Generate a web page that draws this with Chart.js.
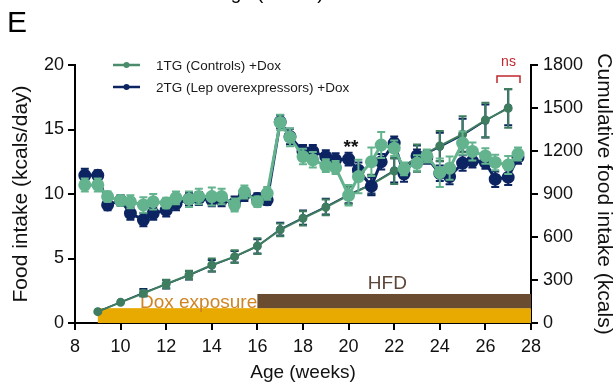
<!DOCTYPE html>
<html>
<head>
<meta charset="utf-8">
<script src="https://cdn.jsdelivr.net/npm/chart.js@4.4.1/dist/chart.umd.min.js"></script>
<style>
  body { margin: 0; background: #fff; }
</style>
</head>
<body>
<canvas id="intake" width="616" height="388"></canvas>
<script>
// daily food intake (kcals/day), two readings a week
var dayWeeks = [8.43, 9, 9.43, 10, 10.43, 11, 11.43, 12, 12.43, 13, 13.43, 14, 14.43, 15, 15.43, 16, 16.43,
  17, 17.43, 18, 18.43, 19, 19.43, 20, 20.43, 21, 21.43, 22, 22.43, 23, 23.43, 24, 24.43, 25, 25.43, 26, 26.43, 27, 27.43];
var ctrlDaily = [10.7, 10.7, 9.8, 9.5, 9.4, 9.15, 9.4, 9.3, 9.7, 9.6, 9.8, 9.8, 9.8, 9.15, 10.15, 9.4, 10.05,
  15.55, 14.4, 12.9, 12.65, 12.2, 12.05, 9.9, 11.35, 12.5, 13.8, 13.55, 11.95, 12.4, 12.95, 11.65, 12.0, 13.95, 13.3, 12.95, 12.45, 12.25, 13.1];
var ctrlDailyErr = [0.5, 0.5, 0.4, 0.4, 0.5, 0.6, 0.6, 0.4, 0.5, 0.6, 0.6, 0.7, 0.6, 0.5, 0.5, 0.4, 0.5,
  0.6, 0.7, 0.6, 0.6, 0.5, 0.5, 0.8, 1.3, 1.1, 1.0, 0.6, 0.5, 0.6, 0.5, 1.1, 0.9, 0.9, 0.7, 0.6, 0.6, 0.7, 0.5];
var lepDaily = [11.45, 11.45, 9.15, 9.5, 8.5, 8.0, 8.5, 8.75, 9.25, 9.6, 9.65, 9.55, 9.55, 9.3, 9.95, 9.65, 9.55,
  15.6, 14.45, 13.3, 13.3, 12.9, 12.65, 12.7, 11.85, 10.6, 12.5, 13.95, 11.55, 12.95, 12.85, 11.6, 11.35, 12.4, 12.55, 12.45, 11.15, 11.3, 12.85];
var lepDailyErr = [0.5, 0.4, 0.4, 0.4, 0.5, 0.5, 0.5, 0.5, 0.5, 0.5, 0.5, 0.5, 0.5, 0.5, 0.5, 0.4, 0.4,
  0.5, 0.6, 0.5, 0.5, 0.5, 0.5, 0.5, 0.6, 0.7, 0.6, 0.5, 0.6, 0.5, 0.5, 0.6, 0.6, 0.6, 0.5, 0.5, 0.6, 0.6, 0.5];

// cumulative intake (kcals), weekly
var cumWeeks = [9, 10, 11, 12, 13, 14, 15, 16, 17, 18, 19, 20, 21, 22, 23, 24, 25, 26, 27];
var ctrlCum = [79, 144, 207, 272, 335, 405, 463, 537, 650, 730, 807, 890, 965, 1060, 1150, 1235, 1317, 1416, 1498];
var ctrlCumErr = [0, 0, 20, 30, 30, 45, 45, 55, 45, 50, 55, 60, 70, 90, 95, 105, 125, 120, 135];
var lepCum = [80, 146, 212, 270, 333, 400, 462, 535, 655, 735, 812, 895, 968, 1065, 1148, 1228, 1310, 1410, 1505];
var lepCumErr = [0, 0, 25, 30, 30, 40, 40, 50, 45, 50, 55, 60, 65, 85, 90, 100, 115, 115, 125];

// treatment periods (weeks)
var doxPeriod = [9, 28];
var hfdPeriod = [16, 28];

var xTicks = [8, 10, 12, 14, 16, 18, 20, 22, 24, 26, 28];
var leftTicks = [0, 5, 10, 15, 20];
var rightTicks = [0, 300, 600, 900, 1200, 1500, 1800];

var GREEN = '#63b38e';
var GREEN_DARK = '#3f7d60';
var NAVY = '#0c2461';
var FONT = '"Liberation Sans", Arial, sans-serif';

function pts(xs, ys) {
  return xs.map(function (x, i) { return { x: x, y: ys[i] }; });
}

function fixedTicks(list) {
  return function (s) { s.ticks = list.map(function (v) { return { value: v }; }); };
}

// bands for dox exposure / HFD along the bottom
var periodBands = {
  id: 'periodBands',
  beforeDatasetsDraw: function (chart) {
    var ctx = chart.ctx, x = chart.scales.x, y = chart.scales.y;
    ctx.save();
    ctx.fillStyle = '#e8a900';
    ctx.fillRect(x.getPixelForValue(doxPeriod[0]), y.getPixelForValue(1.15),
      x.getPixelForValue(doxPeriod[1]) - x.getPixelForValue(doxPeriod[0]), y.getPixelForValue(0) - y.getPixelForValue(1.15));
    ctx.fillStyle = '#6a4c31';
    ctx.fillRect(x.getPixelForValue(hfdPeriod[0]), y.getPixelForValue(2.25),
      x.getPixelForValue(hfdPeriod[1]) - x.getPixelForValue(hfdPeriod[0]), y.getPixelForValue(1.15) - y.getPixelForValue(2.25));
    ctx.font = '19px ' + FONT;
    ctx.textBaseline = 'alphabetic';
    ctx.fillStyle = '#cf8524';
    ctx.textAlign = 'left';
    ctx.fillText('Dox exposure', x.getPixelForValue(10.85), y.getPixelForValue(1.2));
    ctx.fillStyle = '#5b4637';
    ctx.textAlign = 'center';
    ctx.fillText('HFD', x.getPixelForValue(21.7), y.getPixelForValue(2.6));
    ctx.restore();
  }
};

// SEM whiskers, drawn under each dataset
var errorBars = {
  id: 'errorBars',
  beforeDatasetDraw: function (chart, args) {
    var ds = chart.data.datasets[args.index];
    if (!ds.errors) return;
    var ys = chart.scales[ds.yAxisID], ctx = chart.ctx;
    ctx.save();
    ctx.strokeStyle = ds.borderColor;
    ctx.lineWidth = 2;
    args.meta.data.forEach(function (pt, i) {
      var e = ds.errors[i];
      if (!e) return;
      var v = ds.data[i].y;
      var t = ys.getPixelForValue(v + e), b = ys.getPixelForValue(v - e);
      ctx.beginPath();
      ctx.moveTo(pt.x, t); ctx.lineTo(pt.x, b);
      ctx.moveTo(pt.x - 4, t); ctx.lineTo(pt.x + 4, t);
      ctx.moveTo(pt.x - 4, b); ctx.lineTo(pt.x + 4, b);
      ctx.stroke();
    });
    ctx.restore();
  }
};

// legend, significance marks and panel letter
var extras = {
  id: 'extras',
  afterDraw: function (chart) {
    var ctx = chart.ctx, x = chart.scales.x;
    ctx.save();
    var items = [['1TG (Controls) +Dox', '#4a8c6c', 65], ['2TG (Lep overexpressors) +Dox', NAVY, 87]];
    items.forEach(function (it) {
      ctx.strokeStyle = it[1];
      ctx.lineWidth = 2.5;
      ctx.beginPath(); ctx.moveTo(113, it[2]); ctx.lineTo(140, it[2]); ctx.stroke();
      ctx.fillStyle = it[1];
      ctx.beginPath(); ctx.arc(126.5, it[2], 3, 0, Math.PI * 2); ctx.fill();
      ctx.fillStyle = '#1a1a1a';
      ctx.font = '13.5px ' + FONT;
      ctx.textAlign = 'left';
      ctx.textBaseline = 'middle';
      ctx.fillText(it[0], 156, it[2] + 1);
    });

    // ** at week 20
    ctx.fillStyle = '#111';
    ctx.font = 'bold 19px ' + FONT;
    ctx.textAlign = 'center';
    ctx.textBaseline = 'alphabetic';
    ctx.fillText('**', x.getPixelForValue(20.1), 153);

    // ns bracket over the last cumulative point
    ctx.strokeStyle = '#c0272d';
    ctx.lineWidth = 1.5;
    ctx.beginPath();
    ctx.moveTo(497, 83); ctx.lineTo(497, 76); ctx.lineTo(520, 76); ctx.lineTo(520, 83);
    ctx.stroke();
    ctx.fillStyle = '#c0272d';
    ctx.font = '14px ' + FONT;
    ctx.textBaseline = 'middle';
    ctx.fillText('ns', 508.5, 62);

    ctx.fillStyle = '#000';
    ctx.font = '30px ' + FONT;
    ctx.textAlign = 'left';
    ctx.textBaseline = 'alphabetic';
    ctx.fillText('E', 7, 32);
    // tail of the previous panel's axis title
    ctx.font = '19px ' + FONT;
    ctx.fillText('Age (weeks)', 218, -1);
    ctx.restore();
  }
};

var axisFont = { family: FONT, size: 18 };
var titleFont = { family: FONT, size: 21 };
var tickMarks = { drawOnChartArea: false, drawTicks: true, tickLength: 7, color: '#000', lineWidth: 2 };
var axisLine = { color: '#000', width: 2 };
var plain = function (v) { return String(v); };

new Chart(document.getElementById('intake').getContext('2d'), {
  type: 'line',
  data: {
    datasets: [
      { label: '1TG (Controls) +Dox', data: pts(dayWeeks, ctrlDaily), errors: ctrlDailyErr, yAxisID: 'y',
        borderColor: GREEN, backgroundColor: GREEN, pointBorderColor: GREEN, borderWidth: 3, pointRadius: 5, order: 0 },
      { label: '2TG (Lep overexpressors) +Dox', data: pts(dayWeeks, lepDaily), errors: lepDailyErr, yAxisID: 'y',
        borderColor: NAVY, backgroundColor: NAVY, pointBorderColor: NAVY, borderWidth: 3, pointRadius: 5, order: 1 },
      { label: '1TG cumulative', data: pts(cumWeeks, ctrlCum), errors: ctrlCumErr, yAxisID: 'y1',
        borderColor: GREEN_DARK, backgroundColor: GREEN_DARK, pointBorderColor: GREEN_DARK, borderWidth: 2, pointRadius: 3.5, order: 2 },
      { label: '2TG cumulative', data: pts(cumWeeks, lepCum), errors: lepCumErr, yAxisID: 'y1',
        borderColor: NAVY, backgroundColor: NAVY, pointBorderColor: NAVY, borderWidth: 1.5, pointRadius: 3, order: 3 }
    ]
  },
  options: {
    responsive: false,
    animation: false,
    layout: { padding: { top: 65, left: 0, right: 0, bottom: 0 } },
    plugins: { legend: { display: false }, tooltip: { enabled: false } },
    scales: {
      x: {
        type: 'linear', min: 8, max: 28,
        afterBuildTicks: fixedTicks(xTicks),
        afterFit: function (s) { s.height = 65; },
        ticks: { font: axisFont, color: '#111', padding: 6, maxRotation: 0, callback: plain },
        grid: tickMarks,
        border: axisLine,
        title: { display: true, text: 'Age (weeks)', font: { family: FONT, size: 19 }, color: '#111', padding: { top: 0, bottom: 4 } }
      },
      y: {
        position: 'left', min: 0, max: 20,
        afterBuildTicks: fixedTicks(leftTicks),
        afterFit: function (s) { s.width = 75; },
        ticks: { font: axisFont, color: '#111', padding: 4, callback: plain },
        grid: tickMarks,
        border: axisLine,
        title: { display: true, text: 'Food intake (kcals/day)', font: titleFont, color: '#111', padding: { top: 9, bottom: 0 } }
      },
      y1: {
        position: 'right', min: 0, max: 1800,
        afterBuildTicks: fixedTicks(rightTicks),
        afterFit: function (s) { s.width = 85; },
        ticks: { font: axisFont, color: '#111', padding: 5, callback: plain },
        grid: tickMarks,
        border: axisLine,
        title: { display: true, text: 'Cumulative food intake (kcals)', font: titleFont, color: '#111', padding: { top: 0, bottom: 0 } }
      }
    }
  },
  plugins: [periodBands, errorBars, extras]
});
</script>
</body>
</html>
